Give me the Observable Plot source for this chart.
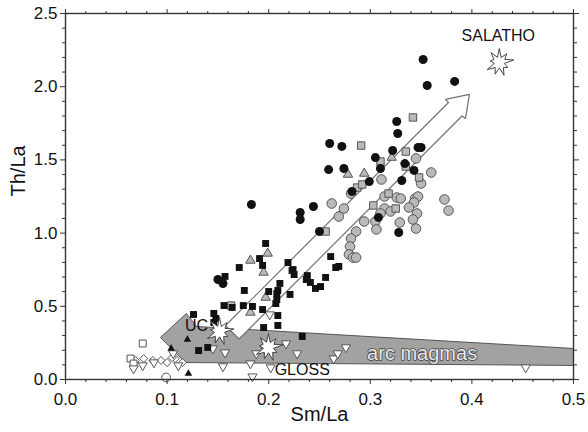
<!DOCTYPE html>
<html>
<head>
<meta charset="utf-8">
<script src="https://cdn.jsdelivr.net/npm/d3@7"></script>
<script src="https://cdn.jsdelivr.net/npm/@observablehq/plot@0.6"></script>
<style>
  body { margin: 0; background: #fff; }
  #chart svg { display: block; }
</style>
</head>
<body>
<div id="chart"></div>
<script>
// Axis ticks
const xTicks = [0, 0.1, 0.2, 0.3, 0.4, 0.5];
const xMinor = [0.02, 0.04, 0.06, 0.08, 0.12, 0.14, 0.16, 0.18, 0.22, 0.24, 0.26, 0.28,
                0.32, 0.34, 0.36, 0.38, 0.42, 0.44, 0.46, 0.48];
const yTicks = [0, 0.5, 1, 1.5, 2, 2.5];
const yMinor = [0.1, 0.2, 0.3, 0.4, 0.6, 0.7, 0.8, 0.9, 1.1, 1.2, 1.3, 1.4,
                1.6, 1.7, 1.8, 1.9, 2.1, 2.2, 2.3, 2.4];

// Samples as [Sm/La, Th/La]
const blackCircles = [
  [0.352, 2.186], [0.356, 2.008], [0.383, 2.036], [0.326, 1.762], [0.327, 1.680],
  [0.260, 1.612], [0.272, 1.592], [0.305, 1.516], [0.322, 1.564], [0.347, 1.585],
  [0.350, 1.585], [0.334, 1.475], [0.259, 1.434], [0.274, 1.441], [0.310, 1.441],
  [0.343, 1.428], [0.331, 1.359], [0.299, 1.352], [0.282, 1.284], [0.244, 1.182],
  [0.231, 1.141], [0.231, 1.093], [0.308, 1.107], [0.328, 1.004], [0.250, 1.011],
  [0.183, 1.195], [0.150, 0.683], [0.155, 0.656]
];
const grayCircles = [
  [0.345, 1.510], [0.360, 1.414], [0.350, 1.339], [0.326, 1.243], [0.330, 1.236],
  [0.344, 1.236], [0.347, 1.250], [0.373, 1.230], [0.377, 1.154], [0.311, 1.366],
  [0.281, 1.270], [0.262, 1.202], [0.274, 1.168], [0.269, 1.113], [0.314, 1.250],
  [0.343, 1.209], [0.338, 1.175], [0.314, 1.168], [0.320, 1.148], [0.346, 1.134],
  [0.310, 1.134], [0.294, 1.079], [0.305, 1.079], [0.329, 1.072], [0.342, 1.093],
  [0.345, 1.031], [0.306, 1.025], [0.286, 1.011], [0.281, 0.963], [0.280, 0.908],
  [0.279, 0.854], [0.283, 0.833], [0.286, 0.833]
];
const graySquares = [
  [0.342, 1.790], [0.291, 1.598], [0.310, 1.489], [0.335, 1.557], [0.335, 1.455],
  [0.348, 1.380], [0.318, 1.270], [0.287, 1.311], [0.292, 1.332], [0.303, 1.189],
  [0.325, 1.168], [0.256, 1.011], [0.163, 0.505]
];
const grayTriangles = [
  [0.321, 1.516], [0.278, 1.400], [0.294, 1.407], [0.199, 0.861], [0.182, 0.813],
  [0.195, 0.731], [0.197, 0.560], [0.182, 0.458]
];
const blackSquares = [
  [0.197, 0.929], [0.191, 0.826], [0.171, 0.765], [0.194, 0.779], [0.219, 0.799],
  [0.157, 0.704], [0.224, 0.751], [0.225, 0.717], [0.261, 0.840], [0.269, 0.772],
  [0.266, 0.765], [0.223, 0.745], [0.238, 0.710], [0.237, 0.683], [0.241, 0.663],
  [0.246, 0.622], [0.251, 0.635], [0.256, 0.697], [0.211, 0.656], [0.209, 0.608],
  [0.208, 0.587], [0.200, 0.601], [0.208, 0.546], [0.207, 0.519], [0.221, 0.581],
  [0.176, 0.608], [0.175, 0.505], [0.184, 0.499], [0.194, 0.478], [0.164, 0.492],
  [0.209, 0.437], [0.146, 0.451], [0.148, 0.417], [0.146, 0.389], [0.195, 0.355],
  [0.209, 0.369], [0.233, 0.294], [0.126, 0.444], [0.156, 0.505], [0.131, 0.198],
  [0.140, 0.219]
];
const blackTriangles = [[0.120, 0.273], [0.104, 0.212], [0.121, 0.041]];
const whiteDownTriangles = [
  [0.145, 0.212], [0.155, 0.089], [0.157, 0.184], [0.182, 0.109], [0.184, 0.020],
  [0.202, 0.082], [0.197, 0.198], [0.188, 0.178], [0.217, 0.246], [0.228, 0.178],
  [0.264, 0.143], [0.268, 0.178], [0.276, 0.219], [0.201, 0.444], [0.453, 0.082],
  [0.111, 0.096], [0.106, 0.178], [0.087, 0.116], [0.076, 0.096], [0.067, 0.075]
];
const whiteDiamonds = [
  [0.069, 0.130], [0.077, 0.143], [0.086, 0.130], [0.094, 0.130], [0.100, 0.116],
  [0.108, 0.143], [0.115, 0.116], [0.105, 0.150]
];
const whiteSquares = [[0.076, 0.246], [0.064, 0.143], [0.067, 0.109]];
const whiteCircles = [[0.099, 0.014]];

// Reference compositions
const endMembers = [
  {name: "UC", x: 0.1516, y: 0.328},
  {name: "GLOSS", x: 0.1998, y: 0.219},
  {name: "SALATHO", x: 0.427, y: 2.165}
];
const labels = [
  {text: "SALATHO", x: 0.426, y: 2.350},
  {text: "UC", x: 0.129, y: 0.369},
  {text: "GLOSS", x: 0.233, y: 0.068}
];

// Outline of the arc-magma trend arrow (points left)
const arcArrow = [
  [0.0935, 0.287], [0.119, 0.451], [0.129, 0.362], [0.5, 0.212],
  [0.5, 0.096], [0.118, 0.116], [0.0935, 0.287]
];
// Outline of the open trend arrow toward SALATHO
const trendArrow = [
  [0.1575, 0.369], [0.377, 1.892], [0.374, 1.913], [0.3976, 1.947],
  [0.3937, 1.783], [0.3903, 1.800], [0.1708, 0.2766], [0.1575, 0.369]
];

// Jagged "burst" glyph for the end-member compositions
const burst = {
  draw(context, size) {
    const R = Math.sqrt(size / Math.PI);
    const k = [1, 0.38, 0.82, 0.45, 1.05, 0.36, 0.7, 0.46, 0.98, 0.38, 0.88, 0.46, 1, 0.36, 0.66, 0.44,
               0.92, 0.4];
    const n = k.length;
    for (let i = 0; i < n; ++i) {
      const a = 2 * Math.PI * i / n - Math.PI / 2;
      const px = R * k[i] * Math.cos(a), py = R * k[i] * Math.sin(a);
      if (i === 0) context.moveTo(px, py); else context.lineTo(px, py);
    }
    context.closePath();
  }
};

const pt = {x: d => d[0], y: d => d[1]};
const axisColor = "#333";

const chart = Plot.plot({
  width: 588,
  height: 432,
  marginLeft: 65,
  marginRight: 15,
  marginTop: 13,
  marginBottom: 53,
  x: {domain: [0, 0.5]},
  y: {domain: [0, 2.5]},
  style: {fontFamily: "'Liberation Sans', Arial, sans-serif", color: "#111", background: "#fff"},
  marks: [
    // trend arrows
    Plot.line(arcArrow, {...pt, fill: "#a2a2a2", stroke: "#555", strokeWidth: 1, curve: "linear"}),
    Plot.line(trendArrow, {...pt, fill: "#fff", stroke: "#707070", strokeWidth: 1.2, curve: "linear"}),

    // samples
    Plot.dot(whiteDiamonds, {...pt, symbol: "diamond2", r: 3.6, fill: "#fff", stroke: "#555", strokeWidth: 1}),
    Plot.dot(whiteSquares, {...pt, symbol: "square", r: 3.9, fill: "#fff", stroke: "#555", strokeWidth: 1}),
    Plot.dot(whiteCircles, {...pt, r: 4.3, fill: "#fff", stroke: "#555", strokeWidth: 1}),
    Plot.dot(whiteDownTriangles, {...pt, symbol: "triangle", rotate: 180, r: 3.4, fill: "#fff", stroke: "#555", strokeWidth: 1}),
    Plot.dot(grayCircles, {...pt, r: 4.8, fill: "#b9b9b9", stroke: "#555", strokeWidth: 1}),
    Plot.dot(graySquares, {...pt, symbol: "square", r: 4.2, fill: "#b9b9b9", stroke: "#555", strokeWidth: 1}),
    Plot.dot(grayTriangles, {...pt, symbol: "triangle", r: 3.5, fill: "#b9b9b9", stroke: "#555", strokeWidth: 1}),
    Plot.dot(blackSquares, {...pt, symbol: "square", r: 3.9, fill: "#111", stroke: "none"}),
    Plot.dot(blackTriangles, {...pt, symbol: "triangle", r: 2.8, fill: "#111", stroke: "none"}),
    Plot.dot(blackCircles, {...pt, r: 4.5, fill: "#111", stroke: "none"}),

    // end members
    Plot.dot(endMembers, {x: "x", y: "y", symbol: burst, r: 14, fill: "#fff", stroke: "#444", strokeWidth: 1}),

    // annotations
    Plot.text(["arc magmas"], {x: 0.351, y: 0.174, text: d => d, fontSize: 20, fill: "#e8e8e8", stroke: "#444", strokeWidth: 1.6}),
    Plot.text(labels, {x: "x", y: "y", text: "text", fontSize: 16, fill: "#111"}),

    // axes
    Plot.axisX(xMinor, {tickSize: 3, tickFormat: () => "", label: null, stroke: axisColor}),
    Plot.axisX(xTicks, {tickSize: 5, tickPadding: 8, tickFormat: d => d.toFixed(1), fontSize: 17, label: null, stroke: axisColor, fill: "#111"}),
    Plot.axisX(xMinor, {anchor: "top", tickSize: 3, tickFormat: () => "", label: null, stroke: axisColor}),
    Plot.axisX(xTicks, {anchor: "top", tickSize: 5, tickFormat: () => "", label: null, stroke: axisColor}),
    Plot.axisY(yMinor, {tickSize: 3, tickFormat: () => "", label: null, stroke: axisColor}),
    Plot.axisY(yTicks, {tickSize: 5, tickPadding: 3, tickFormat: d => d.toFixed(1), fontSize: 17, label: null, stroke: axisColor, fill: "#111"}),
    Plot.axisY(yMinor, {anchor: "right", tickSize: 3, tickFormat: () => "", label: null, stroke: axisColor}),
    Plot.axisY(yTicks, {anchor: "right", tickSize: 5, tickFormat: () => "", label: null, stroke: axisColor}),
    Plot.frame({stroke: axisColor, strokeWidth: 1.4}),

    // axis titles
    Plot.text(["Sm/La"], {frameAnchor: "bottom", dy: 41, text: d => d, fontSize: 20, fill: "#111"}),
    Plot.text(["Th/La"], {frameAnchor: "left", dx: -47, rotate: -90, text: d => d, fontSize: 20, fill: "#111"})
  ]
});

document.getElementById("chart").appendChild(chart);
</script>
</body>
</html>
